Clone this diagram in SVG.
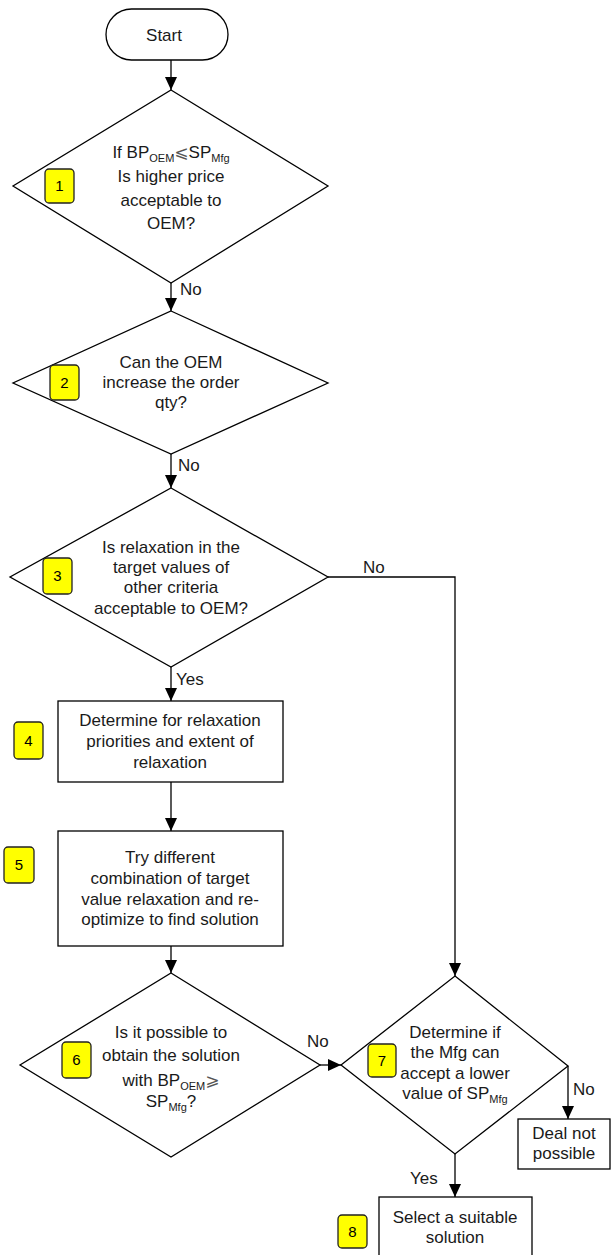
<svg xmlns="http://www.w3.org/2000/svg" width="611" height="1255" viewBox="0 0 611 1255">
<defs>
<marker id="arr" markerUnits="userSpaceOnUse" markerWidth="13" markerHeight="12" refX="13" refY="6" orient="auto">
<path d="M0,0 L13,6 L0,12 z" fill="#000"/>
</marker>
<style>
.shape{fill:#fff;stroke:#000;stroke-width:1.3}
.badge{fill:#ffff00;stroke:#222;stroke-width:1.3}
.t{font-family:"Liberation Sans",Arial,sans-serif;font-size:17px;fill:#1a1a1a;text-anchor:middle}
.lbl{font-family:"Liberation Sans",Arial,sans-serif;font-size:17px;fill:#1a1a1a}
.bn{font-family:"Liberation Sans",Arial,sans-serif;font-size:15px;fill:#000;text-anchor:middle}
.sub{font-size:11px}
.sym{font-family:"DejaVu Sans",sans-serif;font-size:17px;fill:#555}
.c{fill:none;stroke:#000;stroke-width:1.3;marker-end:url(#arr)}
</style>
</defs>
<rect width="611" height="1255" fill="#fff"/>
<g id="connectors">
<line class="c" x1="171" y1="60" x2="171" y2="90"/>
<line class="c" x1="171" y1="283" x2="171" y2="311"/>
<line class="c" x1="171" y1="454" x2="171" y2="488"/>
<line class="c" x1="171" y1="667" x2="171" y2="701"/>
<line class="c" x1="171" y1="782" x2="171" y2="831"/>
<line class="c" x1="171" y1="946" x2="171" y2="973"/>
<polyline class="c" points="328,577 455,577 455,976"/>
<line class="c" x1="320" y1="1065" x2="341" y2="1065"/>
<line class="c" x1="568" y1="1066" x2="568" y2="1119"/>
<line class="c" x1="455" y1="1154" x2="455" y2="1197"/>
<text class="lbl" x="180" y="295">No</text>
<text class="lbl" x="178" y="471">No</text>
<text class="lbl" x="363" y="573">No</text>
<text class="lbl" x="176" y="685">Yes</text>
<text class="lbl" x="307" y="1047">No</text>
<text class="lbl" x="573" y="1095">No</text>
<text class="lbl" x="410" y="1184">Yes</text>
</g>
<g id="start">
<rect class="shape" x="106" y="9" width="122" height="51" rx="25.5"/>
<text class="t" x="164" y="41">Start</text>
</g>
<g id="d1">
<polygon class="shape" points="171,90 328,186 171,283 13,186"/>
<text class="t" x="171" y="158">If BP<tspan class="sub" dy="4">OEM</tspan><tspan class="sym" dy="-4">⩽</tspan>SP<tspan class="sub" dy="4">Mfg</tspan></text>
<text class="t" x="171" y="182">Is higher price</text>
<text class="t" x="171" y="206">acceptable to</text>
<text class="t" x="171" y="229">OEM?</text>
<rect class="badge" x="45" y="169" width="29" height="34" rx="4"/>
<text class="bn" x="59.5" y="191">1</text>
</g>
<g id="d2">
<polygon class="shape" points="171,311 328,383 171,454 13,383"/>
<text class="t" x="171" y="368">Can the OEM</text>
<text class="t" x="171" y="388">increase the order</text>
<text class="t" x="171" y="408">qty?</text>
<rect class="badge" x="50" y="365" width="29" height="35" rx="4"/>
<text class="bn" x="64.5" y="388">2</text>
</g>
<g id="d3">
<polygon class="shape" points="171,488 328,577 171,667 10,577"/>
<text class="t" x="171" y="553">Is relaxation in the</text>
<text class="t" x="171" y="573">target values of</text>
<text class="t" x="171" y="593">other criteria</text>
<text class="t" x="171" y="614">acceptable to OEM?</text>
<rect class="badge" x="43" y="558" width="29" height="36" rx="4"/>
<text class="bn" x="57.5" y="581">3</text>
</g>
<g id="b4">
<rect class="shape" x="58" y="701" width="225" height="81"/>
<text class="t" x="170" y="726">Determine for relaxation</text>
<text class="t" x="170" y="747">priorities and extent of</text>
<text class="t" x="170" y="768">relaxation</text>
<rect class="badge" x="14" y="722" width="29" height="37" rx="4"/>
<text class="bn" x="28.5" y="746">4</text>
</g>
<g id="b5">
<rect class="shape" x="58" y="831" width="225" height="115"/>
<text class="t" x="170" y="863">Try different</text>
<text class="t" x="170" y="884">combination of target</text>
<text class="t" x="170" y="905">value relaxation and re-</text>
<text class="t" x="170" y="925">optimize to find solution</text>
<rect class="badge" x="4" y="847" width="30" height="36" rx="4"/>
<text class="bn" x="19" y="870">5</text>
</g>
<g id="d6">
<polygon class="shape" points="171,973 320,1065 171,1157 20,1065"/>
<text class="t" x="171" y="1038">Is it possible to</text>
<text class="t" x="171" y="1061">obtain the solution</text>
<text class="t" x="171" y="1086">with BP<tspan class="sub" dy="4">OEM</tspan><tspan class="sym" dy="-4">⩾</tspan></text>
<text class="t" x="171" y="1107">SP<tspan class="sub" dy="4">Mfg</tspan><tspan dy="-4">?</tspan></text>
<rect class="badge" x="62" y="1042" width="29" height="36" rx="4"/>
<text class="bn" x="76.5" y="1065">6</text>
</g>
<g id="d7">
<polygon class="shape" points="455,976 568,1066 455,1154 341,1065"/>
<text class="t" x="455" y="1038">Determine if</text>
<text class="t" x="455" y="1058">the Mfg can</text>
<text class="t" x="455" y="1079">accept a lower</text>
<text class="t" x="455" y="1099">value of SP<tspan class="sub" dy="4">Mfg</tspan></text>
<rect class="badge" x="368" y="1044" width="28" height="33" rx="4"/>
<text class="bn" x="382" y="1066">7</text>
</g>
<g id="deal">
<rect class="shape" x="518" y="1119" width="92" height="50"/>
<text class="t" x="564" y="1139">Deal not</text>
<text class="t" x="564" y="1159">possible</text>
</g>
<g id="b8">
<rect class="shape" x="379" y="1197" width="153" height="62"/>
<text class="t" x="455" y="1223">Select a suitable</text>
<text class="t" x="455" y="1243">solution</text>
<rect class="badge" x="338" y="1215" width="29" height="33" rx="4"/>
<text class="bn" x="352.5" y="1237">8</text>
</g>
</svg>
